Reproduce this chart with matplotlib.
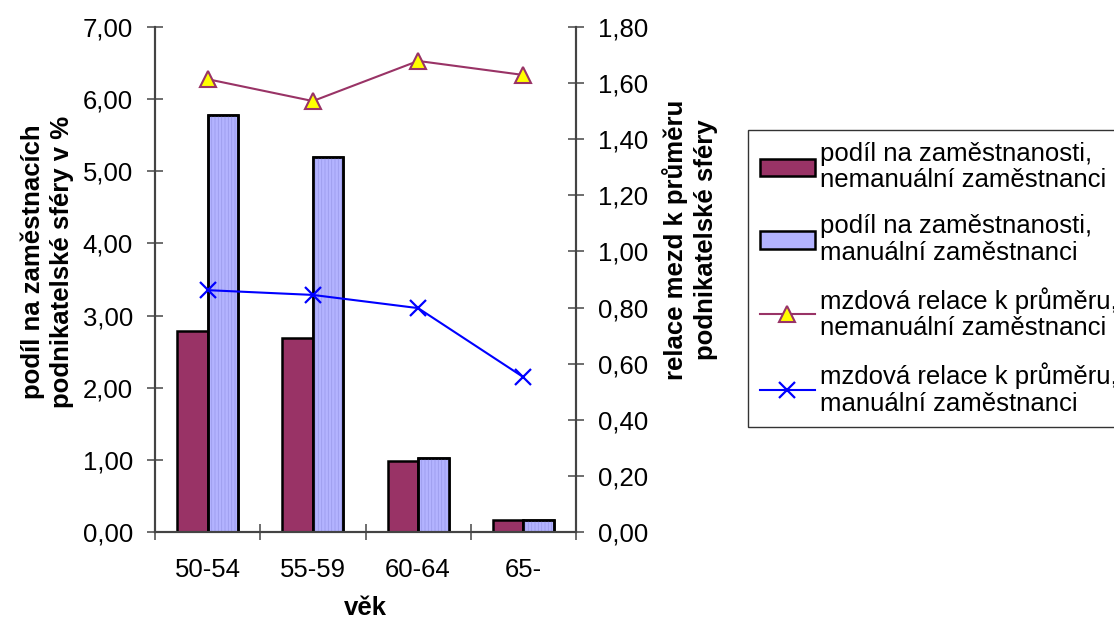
import numpy as np
import matplotlib.pyplot as plt
from matplotlib.ticker import FuncFormatter, MultipleLocator

plt.rcParams['font.family'] = ['Liberation Sans', 'DejaVu Sans']
plt.rcParams['hatch.linewidth'] = 0.6

categories = ['50-54', '55-59', '60-64', '65-']
podil_neman = [2.78, 2.69, 0.98, 0.17]
podil_man = [5.78, 5.20, 1.03, 0.16]
relace_neman = [1.614, 1.536, 1.679, 1.629]
relace_man = [0.862, 0.845, 0.798, 0.552]

labels = ['podíl na zaměstnanosti,\nnemanuální zaměstnanci',
          'podíl na zaměstnanosti,\nmanuální zaměstnanci',
          'mzdová relace k průměru,\nnemanuální zaměstnanci',
          'mzdová relace k průměru,\nmanuální zaměstnanci']

comma = FuncFormatter(lambda v, p: ('%.2f' % v).replace('.', ','))
fs = 18.5
W, H = 1114, 624

fig = plt.figure(figsize=(11.14, 6.24), dpi=100)
ax = fig.add_axes([155/W, 1 - 532/H, 421/W, 505/H])
ax2 = ax.twinx()

x = np.arange(len(categories))
w = 0.29
b1 = ax.bar(x - w/2, podil_neman, w, color='#993366', edgecolor='black', linewidth=1.8, zorder=2)
b2 = ax.bar(x + w/2, podil_man, w, color='#B3B3FF', edgecolor='black', linewidth=1.8, zorder=2)
# faint vertical stripes inside the light bars
ax.bar(x + w/2, podil_man, w, color='none', edgecolor='#9C9CEC', linewidth=0.5,
       hatch='|||||', zorder=2.5)
ax.bar(x + w/2, podil_man, w, color='none', edgecolor='black', linewidth=1.8, zorder=2.6)

l1, = ax2.plot(x, relace_neman, color='#993366', lw=1.5, marker='^', ms=11,
               markerfacecolor='#FFFF00', markeredgecolor='#993366', markeredgewidth=1.5)
l2, = ax2.plot(x, relace_man, color='#0000FF', lw=1.5, marker='x', ms=11,
               markeredgewidth=1.6)

ax.set_xlim(-0.5, 3.5)
ax.set_ylim(0, 7)
ax2.set_ylim(0, 1.8)
ax.yaxis.set_major_locator(MultipleLocator(1))
ax2.yaxis.set_major_locator(MultipleLocator(0.2))
ax.yaxis.set_major_formatter(comma)
ax2.yaxis.set_major_formatter(comma)

ax.set_xticks(x)
ax.set_xticklabels(categories)
ax.set_xticks(np.arange(-0.5, 4, 1), minor=True)
ax.tick_params(axis='x', which='major', length=0, labelsize=fs, pad=19)
ax.tick_params(axis='x', which='minor', direction='inout', length=12, width=1.2, color='#555555')
ax.tick_params(axis='y', direction='inout', length=12, width=1.2, color='#555555',
               labelsize=fs, pad=10)
ax2.tick_params(axis='y', direction='inout', length=12, width=1.2, color='#555555',
                labelsize=fs, pad=10)

for a in (ax, ax2):
    a.spines['top'].set_visible(False)
    for s in ('left', 'right', 'bottom'):
        a.spines[s].set_color('#444444')
        a.spines[s].set_linewidth(1.5)

fig.text(47/W, 1 - 262/H, 'podíl na zaměstnacích\npodnikatelské sféry v %', fontsize=fs,
         fontweight='bold', rotation=90, ha='center', va='center', multialignment='center',
         linespacing=1.25)
fig.text(690/W, 1 - 240/H, 'relace mezd k průměru\npodnikatelské sféry', fontsize=fs,
         fontweight='bold', rotation=90, ha='center', va='center', multialignment='center',
         linespacing=1.3)
fig.text(365/W, 1 - 608/H, 'věk', fontsize=fs, fontweight='bold', ha='center', va='center')

leg = fig.legend([b1, b2, l1, l2], labels, loc='upper left',
                 bbox_to_anchor=(748/W, 1 - 130/H), fontsize=fs,
                 frameon=True, fancybox=False, edgecolor='black',
                 handlelength=2.15, handleheight=0.7, handletextpad=0.2,
                 labelspacing=0.85, borderpad=0.45, borderaxespad=0)
leg.get_frame().set_linewidth(1.0)
for t in leg.get_texts():
    t.set_linespacing(1.15)

fig.savefig('out.png', dpi=100, facecolor='w')
